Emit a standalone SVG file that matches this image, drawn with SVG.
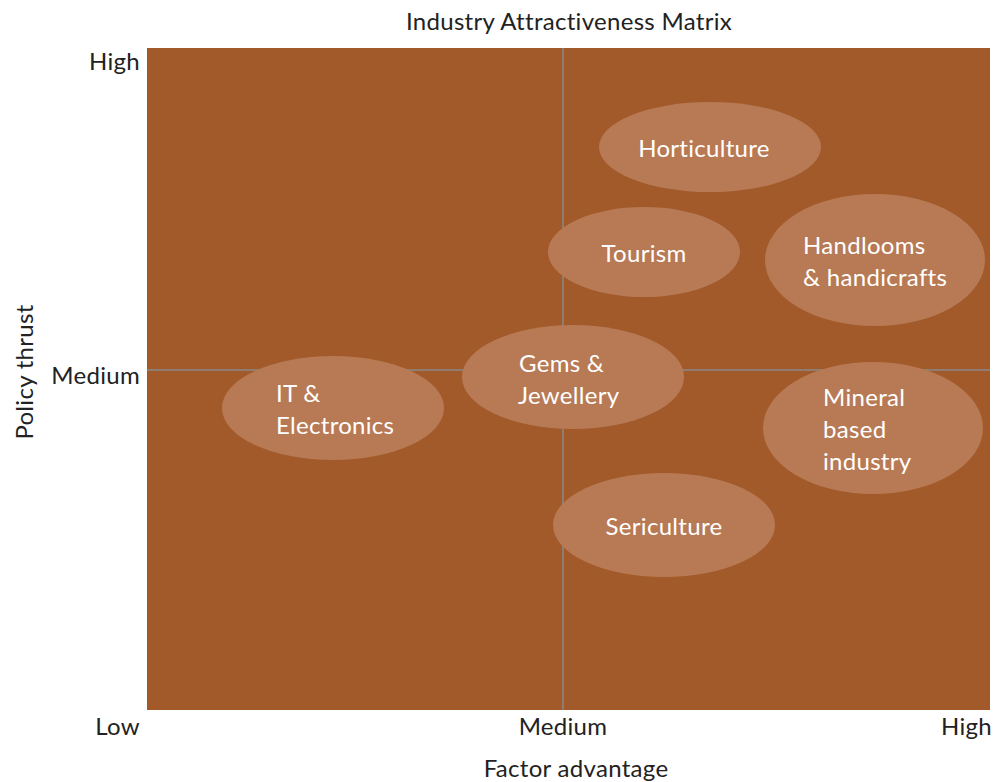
<svg xmlns="http://www.w3.org/2000/svg" width="996" height="782" viewBox="0 0 996 782">
<style>
.t{font-family:Lato,"Open Sans","Liberation Sans",sans-serif;font-size:24px;letter-spacing:0.3px;fill:#222}
.w{font-family:Lato,"Open Sans","Liberation Sans",sans-serif;font-size:24px;letter-spacing:0.3px;fill:#fff}
.e{fill:#B87A55}
.g{stroke:#8a8a8a;stroke-width:1.5}
</style>
<rect width="996" height="782" fill="#fff"/>
<text class="t" x="569" y="30" text-anchor="middle">Industry Attractiveness Matrix</text>
<rect x="147" y="48" width="843" height="662" fill="#A25A2A"/>
<g id="connectors">
<line class="g" x1="563" y1="48" x2="563" y2="710"/>
<line class="g" x1="147" y1="370" x2="990" y2="370"/>
</g>
<text class="t" x="140" y="70" text-anchor="end">High</text>
<text class="t" x="140" y="384" text-anchor="end">Medium</text>
<text class="t" x="140" y="735" text-anchor="end">Low</text>
<text class="t" x="563" y="735" text-anchor="middle">Medium</text>
<text class="t" x="992" y="735" text-anchor="end">High</text>
<text class="t" x="576" y="777" text-anchor="middle">Factor advantage</text>
<text class="t" transform="translate(33 372) rotate(-90)" text-anchor="middle">Policy thrust</text>
<g id="horticulture"><ellipse class="e" cx="710" cy="147" rx="111" ry="45"/><text class="w" x="704" y="157" text-anchor="middle">Horticulture</text></g>
<g id="tourism"><ellipse class="e" cx="644" cy="252" rx="96" ry="45"/><text class="w" x="644" y="262" text-anchor="middle">Tourism</text></g>
<g id="handlooms"><ellipse class="e" cx="875" cy="260" rx="110" ry="66"/><text class="w" x="803" y="254">Handlooms</text><text class="w" x="803" y="286">&amp; handicrafts</text></g>
<g id="gems"><ellipse class="e" cx="573" cy="377" rx="111" ry="52"/><text class="w" x="519" y="372">Gems &amp;</text><text class="w" x="518" y="404">Jewellery</text></g>
<g id="it"><ellipse class="e" cx="333" cy="408" rx="111" ry="52"/><text class="w" x="276" y="402">IT &amp;</text><text class="w" x="276" y="434">Electronics</text></g>
<g id="mineral"><ellipse class="e" cx="873" cy="428" rx="110" ry="66"/><text class="w" x="823" y="406">Mineral</text><text class="w" x="823" y="438">based</text><text class="w" x="823" y="470">industry</text></g>
<g id="sericulture"><ellipse class="e" cx="664" cy="525" rx="111" ry="52"/><text class="w" x="664" y="535" text-anchor="middle">Sericulture</text></g>
</svg>
